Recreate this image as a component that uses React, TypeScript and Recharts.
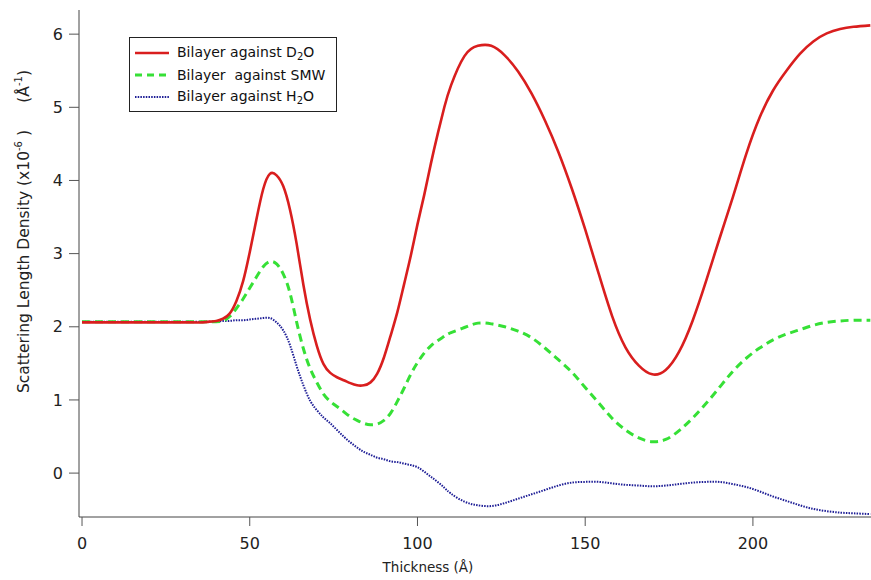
import { Legend, Line, LineChart, XAxis, YAxis } from "recharts";

const FONT = "'DejaVu Sans', sans-serif";
const RED = "#d91e1e";
const GREEN = "#36e036";
const BLUE = "#1e1e96";

const thickness = [
  0, 10, 20, 28, 32, 36, 38, 40, 42, 44, 46, 48, 50, 52, 54, 56, 58, 60, 62, 64, 66, 68, 70, 72, 74, 76, 78, 80, 82,
  84, 86, 88, 90, 92, 94, 96, 98, 100, 102, 104, 106, 108, 110, 114, 118, 122, 126, 130, 134, 138, 142, 146, 150,
  154, 158, 162, 166, 170, 174, 178, 182, 186, 190, 194, 198, 202, 206, 210, 214, 218, 222, 226, 230, 235,
];

const againstD2O = [
  2.06, 2.06, 2.06, 2.06, 2.06, 2.06, 2.07, 2.08, 2.11, 2.18, 2.35, 2.62, 3.02, 3.47, 3.88, 4.09, 4.07, 3.92, 3.6,
  3.13, 2.57, 2.1, 1.74, 1.49, 1.37, 1.31, 1.27, 1.23, 1.2, 1.2, 1.24, 1.36, 1.58, 1.88, 2.2, 2.58, 2.97, 3.4, 3.8,
  4.23, 4.63, 5.0, 5.3, 5.7, 5.84, 5.84, 5.71, 5.49, 5.19, 4.82, 4.39, 3.89, 3.33, 2.73, 2.15, 1.72, 1.47, 1.35,
  1.41, 1.66, 2.08, 2.62, 3.2, 3.77, 4.36, 4.86, 5.23, 5.5, 5.73, 5.9, 6.01, 6.07, 6.1, 6.12,
];

const againstSMW = [
  2.07, 2.07, 2.07, 2.07, 2.07, 2.07, 2.07, 2.07, 2.08, 2.14, 2.25, 2.38, 2.53, 2.68, 2.82, 2.89, 2.86, 2.72, 2.46,
  2.06, 1.7, 1.43, 1.24, 1.08, 0.98, 0.91, 0.84, 0.77, 0.72, 0.68, 0.66, 0.67, 0.72, 0.82, 0.98, 1.16, 1.35, 1.51,
  1.64, 1.74, 1.81, 1.87, 1.92, 1.99, 2.05, 2.04, 2.0, 1.94, 1.85, 1.71, 1.55, 1.38, 1.17, 0.96, 0.75, 0.59, 0.48,
  0.43, 0.46, 0.58, 0.75, 0.95, 1.17, 1.39, 1.57, 1.71, 1.82, 1.9, 1.96, 2.02, 2.06, 2.08, 2.09, 2.09,
];

const againstH2O = [
  2.07, 2.07, 2.07, 2.07, 2.07, 2.07, 2.07, 2.07, 2.08, 2.08, 2.09, 2.09, 2.1, 2.11, 2.12, 2.12, 2.06, 1.95, 1.75,
  1.46, 1.2, 0.99, 0.86, 0.76, 0.68, 0.59, 0.5, 0.42, 0.35, 0.29, 0.25, 0.21, 0.19, 0.16, 0.15, 0.13, 0.11, 0.08,
  0.02, -0.05, -0.12, -0.2, -0.28, -0.39, -0.44, -0.45, -0.41, -0.35, -0.29, -0.23, -0.17, -0.13, -0.12, -0.12,
  -0.14, -0.16, -0.17, -0.18, -0.17, -0.15, -0.13, -0.12, -0.12, -0.15, -0.19, -0.25, -0.32, -0.38, -0.44, -0.49,
  -0.52, -0.54, -0.55, -0.56,
];

const X_TICKS = [0, 50, 100, 150, 200];
const Y_TICKS = [0, 1, 2, 3, 4, 5, 6];

const data = thickness.map((t, i) => ({
  t,
  d2o: againstD2O[i],
  smw: againstSMW[i],
  h2o: againstH2O[i],
}));

type VB = { x: number; y: number; width: number; height: number };

function XTitle(props: { viewBox?: VB }) {
  const vb = props.viewBox as VB;
  return (
    <text x={vb.x + 349} y={vb.y + 55} textAnchor="middle" fontFamily={FONT} fontSize={13.5} fill="#222">
      Thickness (Å)
    </text>
  );
}

function YTitle(props: { viewBox?: VB }) {
  const vb = props.viewBox as VB;
  const x = vb.x + 29;
  const y1 = vb.y + 383;
  const y2 = vb.y + 60;
  return (
    <g fontFamily={FONT} fontSize={15.5} fill="#222">
      <text x={x} y={y1} transform={`rotate(-90, ${x}, ${y1})`} textAnchor="start">
        Scattering Length Density (x10
        <tspan fontSize={10} dy={-7}>
          -6
        </tspan>
        <tspan dy={7}> )</tspan>
      </text>
      <text x={x} y={y2} transform={`rotate(-90, ${x}, ${y2})`} textAnchor="end">
        (Å
        <tspan fontSize={10} dy={-7}>
          -1
        </tspan>
        <tspan dy={7}>)</tspan>
      </text>
    </g>
  );
}

const legendRows = [
  { color: RED, dash: undefined, width: 2.5, label: "Bilayer against D", sub: "2", tail: "O" },
  { color: GREEN, dash: "7 5", width: 3, label: "Bilayer  against SMW", sub: "", tail: "" },
  { color: BLUE, dash: "1.5 1.2", width: 2, label: "Bilayer against H", sub: "2", tail: "O" },
];

function LegendBox() {
  return (
    <div
      style={{
        width: 208,
        height: 75,
        boxSizing: "border-box",
        border: "1px solid #222",
        background: "#fff",
        padding: "4px 0 0 5px",
        fontFamily: FONT,
        fontSize: 14,
        color: "#111",
      }}
    >
      {legendRows.map((r) => (
        <div key={r.label} style={{ display: "flex", alignItems: "center", height: 22 }}>
          <svg width={34} height={6}>
            <line x1={0} y1={3} x2={34} y2={3} stroke={r.color} strokeWidth={r.width} strokeDasharray={r.dash} />
          </svg>
          <span style={{ marginLeft: 8, whiteSpace: "pre" }}>
            {r.label}
            {r.sub && <sub style={{ fontSize: 10, verticalAlign: "-3px" }}>{r.sub}</sub>}
            {r.tail}
          </span>
        </div>
      ))}
    </div>
  );
}

export default function App() {
  return (
    <div style={{ position: "absolute", left: 0, top: 0, background: "#fff" }}>
      <LineChart
        width={871}
        height={580}
        data={data}
        margin={{ top: 10, right: 0, bottom: 0, left: 0 }}
        style={{ fontFamily: FONT }}
      >
        <XAxis
          dataKey="t"
          type="number"
          domain={[-0.9, 235.2]}
          allowDataOverflow
          ticks={X_TICKS}
          interval={0}
          height={63}
          tickSize={9}
          tickMargin={12}
          stroke="#444"
          tickLine={{ stroke: "#555" }}
          tick={{ fill: "#222", fontSize: 16, fontFamily: FONT }}
          label={<XTitle />}
        />
        <YAxis
          type="number"
          domain={[-0.6, 6.33]}
          allowDataOverflow
          ticks={Y_TICKS}
          interval={0}
          width={79}
          tickSize={10}
          tickMargin={6}
          stroke="#444"
          tickLine={{ stroke: "#555" }}
          tick={{ fill: "#222", fontSize: 16, fontFamily: FONT }}
          label={<YTitle />}
        />
        <Legend
          layout="horizontal"
          verticalAlign="middle"
          align="center"
          wrapperStyle={{ left: 129, top: 37, width: 208, height: 75 }}
          content={() => <LegendBox />}
        />
        <Line
          type="natural"
          dataKey="h2o"
          stroke={BLUE}
          strokeWidth={2}
          strokeDasharray="1.5 1.2"
          dot={false}
          isAnimationActive={false}
        />
        <Line
          type="natural"
          dataKey="smw"
          stroke={GREEN}
          strokeWidth={3}
          strokeDasharray="8 5"
          dot={false}
          isAnimationActive={false}
        />
        <Line
          type="natural"
          dataKey="d2o"
          stroke={RED}
          strokeWidth={2.6}
          dot={false}
          isAnimationActive={false}
        />
      </LineChart>
    </div>
  );
}
